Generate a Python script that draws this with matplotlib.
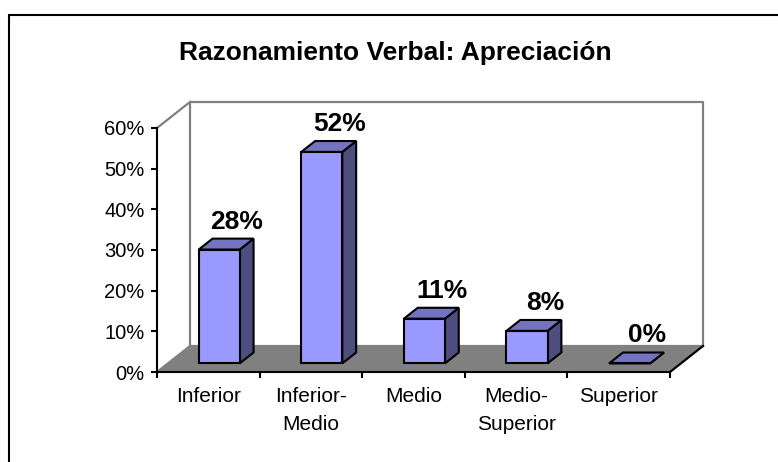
import matplotlib
matplotlib.use('Agg')
import matplotlib.pyplot as plt
from matplotlib.patches import Polygon, Rectangle

plt.rcParams['font.family'] = ['Liberation Sans', 'DejaVu Sans']

title = 'Razonamiento Verbal: Apreciación'
categories = ['Inferior', 'Inferior-\nMedio', 'Medio', 'Medio-\nSuperior', 'Superior']
percentages = [28, 52, 11, 8, 0]
y_ticks = [0, 10, 20, 30, 40, 50, 60]

FACE = '#9999FF'
TOP = '#7373BF'
SIDE = '#4D4D80'
FLOOR = '#808080'
WALL = '#808080'

W, H = 778, 462
fig = plt.figure(figsize=(W / 100, H / 100), dpi=100)

# front plane of the 3d box, in pixels
x0_px, y0_px = 157, 372
px_per_cat = 102.6
px_per_pct = 4.067
xlim = (-0.6, 5.8)
ylim = (-10, 70)
left = x0_px + xlim[0] * px_per_cat
bottom = y0_px - ylim[0] * px_per_pct
width = (xlim[1] - xlim[0]) * px_per_cat
height = (ylim[1] - ylim[0]) * px_per_pct
ax = fig.add_axes([left / W, 1 - bottom / H, width / W, height / H])
ax.set_xlim(xlim)
ax.set_ylim(ylim)
ax.patch.set_alpha(0)

# depth vector of the box, in data units
DX = 33 / px_per_cat
DY = 26 / px_per_pct
bar_w = 0.4
f0, f1 = 0.33, 0.75


def proj(x, y, d):
    return (x + d * DX, y + d * DY)


n = len(categories)
top_val = y_ticks[-1]

# floor
ax.add_patch(Polygon([proj(0, 0, 0), proj(n, 0, 0), proj(n, 0, 1), proj(0, 0, 1)],
                     closed=True, fc=FLOOR, ec='none', zorder=0.5))
# walls
wall = [proj(0, 0, 1), proj(0, top_val, 1), proj(n, top_val, 1), proj(n, 0, 1), proj(0, 0, 1)]
ax.plot(*zip(*wall), color=WALL, lw=1.6, zorder=0.6)
for y in (0, top_val):
    ax.plot(*zip(proj(0, y, 0), proj(0, y, 1)), color=WALL, lw=1.6, zorder=0.6)
ax.plot(*zip(proj(n, 0, 0), proj(n, 0, 1)), color='black', lw=1.6, zorder=0.7)

# bars
for i, v in enumerate(percentages):
    xl = i + 0.5 - bar_w / 2
    xr = i + 0.5 + bar_w / 2
    front = [proj(xl, 0, f0), proj(xr, 0, f0), proj(xr, v, f0), proj(xl, v, f0)]
    top = [proj(xl, v, f0), proj(xr, v, f0), proj(xr, v, f1), proj(xl, v, f1)]
    side = [proj(xr, 0, f0), proj(xr, 0, f1), proj(xr, v, f1), proj(xr, v, f0)]
    for pts, c in ((side, SIDE), (top, TOP), (front, FACE)):
        ax.add_patch(Polygon(pts, closed=True, fc=c, ec='black', lw=1.5,
                             joinstyle='miter', zorder=2))
    ax.annotate(f'{v}%', xy=proj(i + 0.5, v, f1), xytext=(4, 5),
                textcoords='offset pixels', ha='center', va='bottom',
                fontsize=19, fontweight='bold', zorder=3)

# axes
for s in ('top', 'right'):
    ax.spines[s].set_visible(False)
ax.spines['left'].set_position(('data', 0))
ax.spines['left'].set_bounds(0, top_val)
ax.spines['bottom'].set_position(('data', 0))
ax.spines['bottom'].set_bounds(0, n)
for s in ('left', 'bottom'):
    ax.spines[s].set_linewidth(1.5)

ax.set_yticks(y_ticks)
ax.set_yticklabels([f'{t}%' for t in y_ticks])
ax.tick_params(axis='y', direction='out', length=4, width=1.5, pad=5, labelsize=14.5)

ax.set_xticks(range(n + 1))
ax.set_xticklabels([])
ax.set_xticks([i + 0.5 for i in range(n)], minor=True)
ax.set_xticklabels(categories, minor=True, fontsize=15, linespacing=1.6)
ax.tick_params(axis='x', which='major', direction='out', length=4, width=1.5)
ax.tick_params(axis='x', which='minor', length=0, pad=11)

fig.text(395 / W, 1 - 53 / H, title, ha='center', va='center',
         fontsize=19, fontweight='bold')

fig.patches.append(Rectangle((9 / W, -0.1), 1.2, 1 - 15 / H + 0.1,
                             transform=fig.transFigure, fill=False,
                             ec='black', lw=1.5))

fig.savefig('out.png', dpi=100)
